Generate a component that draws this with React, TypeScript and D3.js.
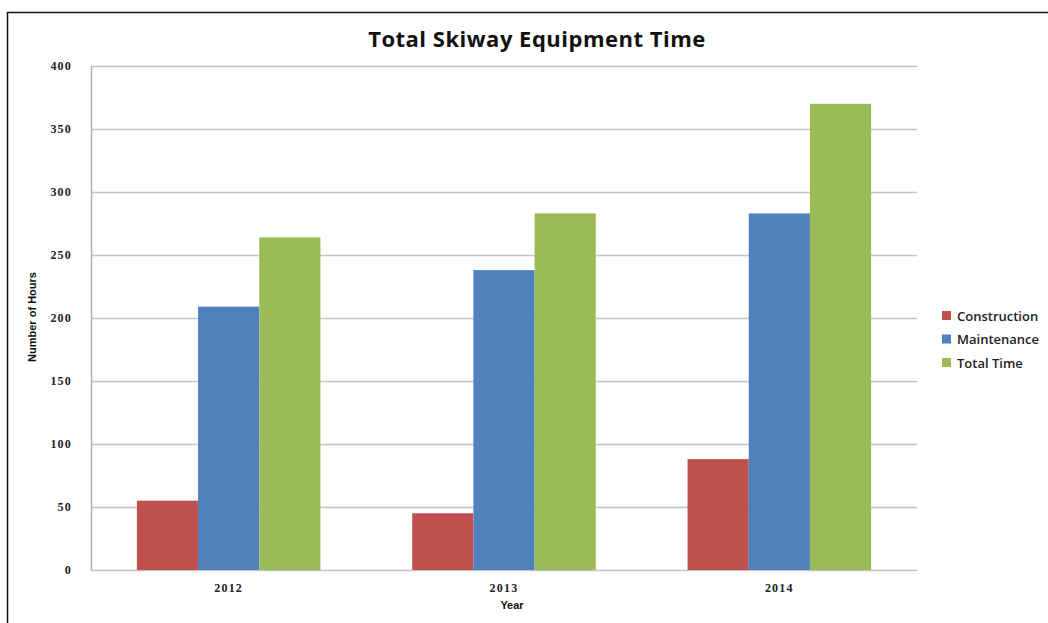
import React from 'react';
import * as d3 from 'd3';

const years = ['2012', '2013', '2014'];
const seriesNames = ['Construction', 'Maintenance', 'Total Time'];
const construction = [55, 45, 88];
const maintenance = [209, 238, 283];
const totalTime = [264, 283, 370];
const yTicks = [0, 50, 100, 150, 200, 250, 300, 350, 400];
const colors = ['#C0504D', '#4F81BD', '#9BBB59'];

const App: React.FC = () => {
  const svgRef = React.useRef<SVGSVGElement>(null);
  const width = 1048;
  const height = 623;

  React.useEffect(() => {
    if (!svgRef.current) return;
    const svg = d3.select(svgRef.current);
    svg.selectAll('*').remove();

    const margin = { top: 66, right: 131, bottom: 53, left: 91 };
    const chartWidth = width - margin.left - margin.right;
    const chartHeight = height - margin.top - margin.bottom;

    // frame round the chart
    svg.append('path')
      .attr('d', `M7.5,${height} L7.5,12.5 L${width},12.5`)
      .attr('fill', 'none')
      .attr('stroke', '#111')
      .attr('stroke-width', 1.5);

    const g = svg.append('g')
      .attr('transform', `translate(${margin.left},${margin.top})`);

    const x0 = d3.scaleBand()
      .domain(years)
      .range([0, chartWidth])
      .paddingInner(1 / 3)
      .paddingOuter(1 / 6);

    const x1 = d3.scaleBand()
      .domain(seriesNames)
      .range([0, x0.bandwidth()]);

    const y = d3.scaleLinear()
      .domain([0, 400])
      .range([chartHeight, 0]);

    // gridlines
    g.append('g')
      .selectAll('line')
      .data(yTicks)
      .enter().append('line')
      .attr('x1', 0)
      .attr('x2', chartWidth)
      .attr('y1', d => Math.round(y(d)) + 0.5)
      .attr('y2', d => Math.round(y(d)) + 0.5)
      .attr('stroke', '#c4c4c4')
      .attr('stroke-width', 1.5);

    // y axis line
    g.append('line')
      .attr('x1', 0.5)
      .attr('x2', 0.5)
      .attr('y1', 0)
      .attr('y2', chartHeight)
      .attr('stroke', '#b0b0b0')
      .attr('stroke-width', 1.5);

    // y tick labels
    g.append('g')
      .selectAll('text')
      .data(yTicks)
      .enter().append('text')
      .attr('x', -19)
      .attr('y', d => y(d) + 4)
      .attr('text-anchor', 'end')
      .attr('font-family', '"Liberation Serif", serif')
      .attr('font-weight', 'bold')
      .attr('font-size', '12px')
      .attr('letter-spacing', '1.2px')
      .attr('fill', '#222')
      .text(d => d);

    // bars
    const valuesBySeries = [construction, maintenance, totalTime];
    seriesNames.forEach((name, si) => {
      g.append('g')
        .selectAll('rect')
        .data(years.map((yr, i) => ({ yr, v: valuesBySeries[si][i] })))
        .enter().append('rect')
        .attr('x', d => (x0(d.yr) || 0) + (x1(name) || 0))
        .attr('y', d => y(d.v))
        .attr('width', x1.bandwidth())
        .attr('height', d => chartHeight - y(d.v))
        .attr('fill', colors[si]);
    });

    // x tick labels
    g.append('g')
      .selectAll('text')
      .data(years)
      .enter().append('text')
      .attr('x', d => (x0(d) || 0) + x0.bandwidth() / 2)
      .attr('y', chartHeight + 22)
      .attr('text-anchor', 'middle')
      .attr('font-family', '"Liberation Serif", serif')
      .attr('font-weight', 'bold')
      .attr('font-size', '12px')
      .attr('letter-spacing', '1.2px')
      .attr('fill', '#222')
      .text(d => d);

    // x axis title
    g.append('text')
      .attr('x', x0.range()[1] / 2 + 8)
      .attr('y', chartHeight + 39)
      .attr('text-anchor', 'middle')
      .attr('font-family', '"Liberation Sans", Arial, sans-serif')
      .attr('font-weight', 'bold')
      .attr('font-size', '11px')
      .attr('fill', '#111')
      .text('Year');

    // y axis title
    svg.append('text')
      .attr('transform', `translate(36,317) rotate(-90)`)
      .attr('text-anchor', 'middle')
      .attr('font-family', '"Liberation Sans", Arial, sans-serif')
      .attr('font-weight', 'bold')
      .attr('font-size', '11px')
      .attr('fill', '#111')
      .text('Number of Hours');

    // title
    svg.append('text')
      .attr('x', 537)
      .attr('y', 47)
      .attr('text-anchor', 'middle')
      .attr('font-family', '"Open Sans", "Liberation Sans", sans-serif')
      .attr('font-weight', 'bold')
      .attr('font-size', '22px')
      .attr('letter-spacing', '0.5px')
      .attr('fill', '#111')
      .text('Total Skiway Equipment Time');

    // legend
    const legend = svg.append('g')
      .attr('transform', 'translate(942, 311)');
    seriesNames.forEach((name, i) => {
      const row = legend.append('g')
        .attr('transform', `translate(0, ${i * 23.5})`);
      row.append('rect')
        .attr('width', 9)
        .attr('height', 9)
        .attr('fill', colors[i]);
      row.append('text')
        .attr('x', 15)
        .attr('y', 9.5)
        .attr('font-family', '"Open Sans", "Liberation Sans", sans-serif')
        .attr('font-weight', 600)
        .attr('font-size', '13px')
        .attr('fill', '#222')
        .text(name);
    });
  }, []);

  return (
    <svg
      ref={svgRef}
      width={width}
      height={height}
      style={{ position: 'absolute', left: 0, top: 0, background: '#fff' }}
    />
  );
};

export default App;
